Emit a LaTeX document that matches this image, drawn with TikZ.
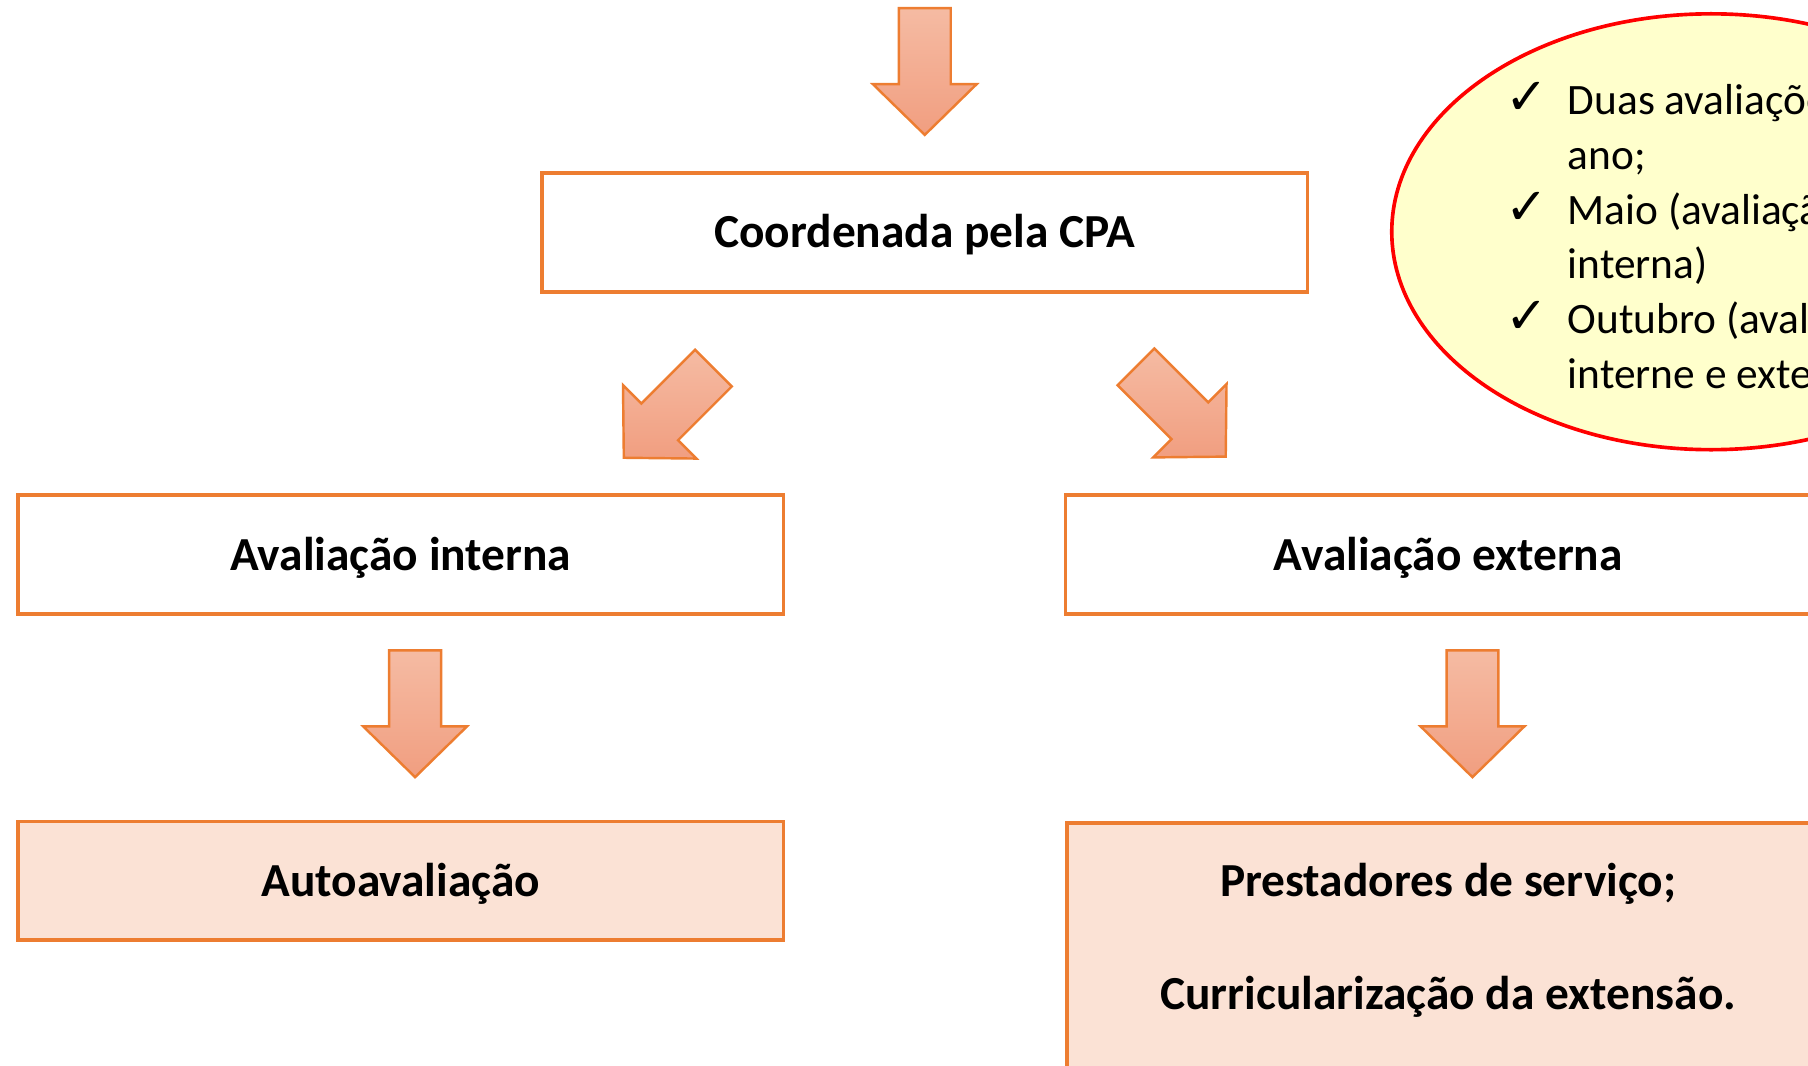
\documentclass[tikz,border=0pt]{standalone}
\usepackage{fontspec}
\setmainfont{Carlito}
\newfontfamily\checkfont{DejaVu Sans}
\usetikzlibrary{positioning,shapes.geometric}

\definecolor{boxline}{HTML}{ED7D31}
\definecolor{arrowtop}{HTML}{F5BBA3}
\definecolor{arrowbottom}{HTML}{F19E80}
\definecolor{softfill}{HTML}{FBE2D5}
\definecolor{notefill}{HTML}{FFFFCC}

\newcommand{\tickmark}{\makebox[0.5cm][l]{\hspace*{-0.04cm}\fontsize{12.6}{13.5}\checkfont ✓}}

\tikzset{
  stagebox/.style={draw=boxline, line width=0.9pt, fill=white, minimum width=6.64cm,
    minimum height=1.03cm, inner sep=0pt, text height=10pt, text depth=2.4pt,
    font=\fontsize{11.7}{14}\selectfont\bfseries},
  softbox/.style={stagebox, fill=softfill},
  boxtext/.style={inner sep=0pt, text height=10pt, text depth=2.4pt,
    font=\fontsize{11.7}{14}\selectfont\bfseries},
  notebubble/.style={ellipse, draw=red, line width=0.9pt, fill=notefill,
    minimum width=5.54cm, minimum height=3.78cm},
  notetext/.style={align=left, inner sep=0pt, font=\fontsize{10.7}{13.5}\selectfont},
  blockdown/.pic={
    \path[draw=boxline, line width=0.6pt, top color=arrowtop, bottom color=arrowbottom]
      (0,0) -- (-0.45,0.44) -- (-0.225,0.44) -- (-0.225,1.10)
      -- (0.225,1.10) -- (0.225,0.44) -- (0.45,0.44) -- cycle;
  }
}

\begin{document}
\begin{tikzpicture}
\useasboundingbox (0,0) rectangle (15.68,9.24);
\clip (0,0) rectangle (15.68,9.24);

% boxes
\node[stagebox] (cpa) at (8.02,7.225) {Coordenada pela CPA};
\node[stagebox] (interna) at (3.475,4.43) {Avaliação interna};
\node[stagebox] (externa) at (12.56,4.43) {Avaliação externa};
\node[softbox] (auto) at (3.475,1.60) {Autoavaliação};
\node[softbox, anchor=north west, minimum height=3cm] (prest) at (9.24,2.12) {};
\node[boxtext] (servicos) at (12.56,1.60) {Prestadores de serviço;};
\node[boxtext] (extensao) at (12.56,0.62) {Curricularização da extensão.};

% note
\node[notebubble] (plan) at (14.84,7.23) {};
\node[notetext, anchor=north west] (plantext) at (13.09,8.53) {%
  \tickmark Duas avaliações por\\
  \hspace*{0.5cm}ano;\\
  \tickmark Maio (avaliação\\
  \hspace*{0.5cm}interna)\\
  \tickmark Outubro (avaliação\\
  \hspace*{0.5cm}interne e externa)};

% block arrows
\pic at (8.02,8.07) {blockdown};
\pic[rotate=-45] at (5.41,5.27) {blockdown};
\pic[rotate=45] at (10.63,5.28) {blockdown};
\pic at (3.60,2.50) {blockdown};
\pic at (12.77,2.50) {blockdown};

\end{tikzpicture}
\end{document}
